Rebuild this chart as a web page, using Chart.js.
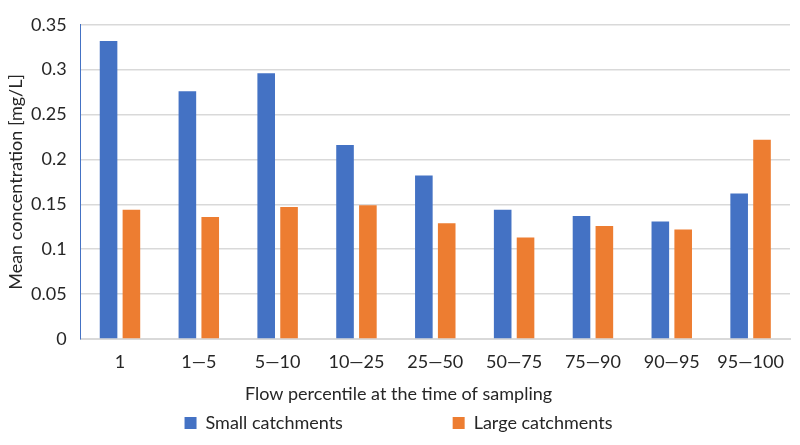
<!DOCTYPE html>
<html>
<head>
<meta charset="utf-8">
<script src="https://cdn.jsdelivr.net/npm/chart.js@4"></script>
<style>
  html, body { margin: 0; padding: 0; background: #fff; }
  #wrap { width: 800px; height: 445px; }
</style>
</head>
<body>
<div id="wrap"><canvas id="chart"></canvas></div>
<script>
// Data
const categories = ["1", "1\u20145", "5\u201410", "10\u201425", "25\u201450", "50\u201475", "75\u201490", "90\u201495", "95\u2014100"];
const smallCatchments = [0.332, 0.276, 0.296, 0.216, 0.182, 0.144, 0.137, 0.131, 0.162];
const largeCatchments = [0.144, 0.136, 0.147, 0.149, 0.129, 0.113, 0.126, 0.122, 0.222];
const yTicks = [0, 0.05, 0.1, 0.15, 0.2, 0.25, 0.3, 0.35];

const FONT = "Lato, 'Open Sans', sans-serif";
const TEXT = "#262626";

const ctx = document.getElementById("chart").getContext("2d");
new Chart(ctx, {
  type: "bar",
  data: {
    labels: categories,
    datasets: [
      {
        label: "Small catchments",
        data: smallCatchments,
        backgroundColor: "#4472C4",
        categoryPercentage: 0.58,
        barPercentage: 0.77,
      },
      {
        label: "Large catchments",
        data: largeCatchments,
        backgroundColor: "#ED7D31",
        categoryPercentage: 0.58,
        barPercentage: 0.77,
      },
    ],
  },
  options: {
    responsive: true,
    maintainAspectRatio: false,
    animation: false,
    layout: { padding: { top: 20, right: 10, bottom: 3, left: 7 } },
    scales: {
      x: {
        grid: { display: false, drawTicks: false },
        border: { color: "#d9d9d9", width: 2 },
        ticks: { color: TEXT, font: { family: FONT, size: 18, lineHeight: 1 }, padding: 14 },
      },
      y: {
        min: 0,
        max: 0.35,
        afterBuildTicks: (axis) => { axis.ticks = yTicks.map((v) => ({ value: v })); },
        grid: { color: "#d9d9d9", lineWidth: 1.5, drawTicks: false },
        border: { color: "#4472C4", width: 1 },
        ticks: {
          color: TEXT,
          font: { family: FONT, size: 18 },
          padding: 14,
          callback: (v) => String(+v.toFixed(2)),
        },
        title: {
          display: true,
          text: "Mean concentration [mg/L]",
          color: TEXT,
          font: { family: FONT, size: 18, lineHeight: 1 },
          padding: { top: 0, bottom: -8 },
        },
      },
    },
    plugins: {
      tooltip: { enabled: false },
      legend: {
        position: "bottom",
        title: {
          display: true,
          text: "Flow percentile at the time of sampling",
          color: TEXT,
          font: { family: FONT, size: 18, lineHeight: 1 },
          padding: { top: 0, bottom: 1 },
        },
        labels: {
          color: TEXT,
          font: { family: FONT, size: 18 },
          boxWidth: 12,
          boxHeight: 12,
          padding: 10,
          generateLabels: (chart) => {
            const items = Chart.defaults.plugins.legend.labels.generateLabels(chart);
            // wide gap between the two legend entries, as in the original
            items[0].text += "\u2003\u2003\u2003\u2003\u2003       ";
            return items;
          },
        },
      },
    },
  },
});
</script>
</body>
</html>
